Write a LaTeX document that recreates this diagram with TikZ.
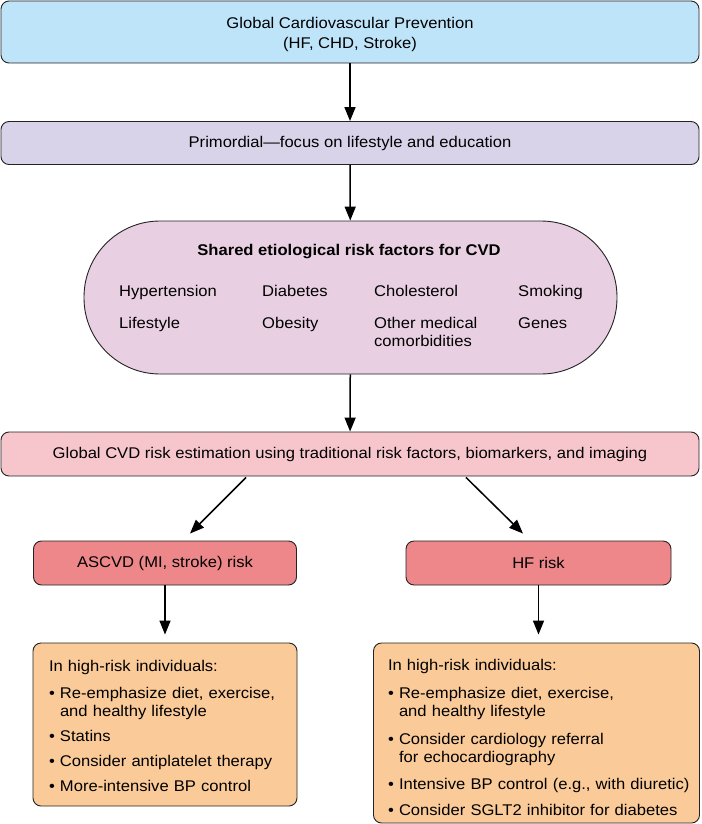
\documentclass[tikz,border=0pt]{standalone}
\usepackage{fontspec}
\setmainfont{Liberation Sans}[FakeStretch=1.07]
\usetikzlibrary{arrows.meta,calc}
\definecolor{cBlue}{RGB}{190,228,250}
\definecolor{cLav}{RGB}{217,211,234}
\definecolor{cStad}{RGB}{233,207,226}
\definecolor{cGlob}{RGB}{246,198,204}
\definecolor{cRed}{RGB}{237,135,138}
\definecolor{cPeach}{RGB}{250,202,152}
\definecolor{cLine}{RGB}{35,35,35}
\newcommand{\bul}[1]{\mbox{\makebox[11pt][l]{\textbullet}#1}}
\newcommand{\ind}[1]{\mbox{\hspace*{11pt}#1}}
\tikzset{
  box/.style={draw=cLine, line width=0.9pt, rounded corners=8pt, inner sep=0pt, align=center},
  arr/.style={draw=black, line width=1.5pt, -{Triangle[length=14pt,width=11pt]}},
  txt/.style={inner sep=0pt, anchor=base west, align=left}
}
\begin{document}
\begin{tikzpicture}[x=1pt,y=-1pt, font=\fontsize{15.5}{20}\selectfont]
\useasboundingbox (0,0) rectangle (701,824);
\fill[white] (0,0) rectangle (701,824);

\node[box, fill=cBlue, minimum width=698, minimum height=62] (top) at (350,32)
  {\rule{0pt}{16pt}Global Cardiovascular Prevention\\(HF, CHD, Stroke)};
\node[box, fill=cLav, minimum width=698, minimum height=43] (prim) at (350,143)
  {Primordial---focus on lifestyle and education};
\node[draw=cLine, line width=0.9pt, fill=cStad, rounded corners=76pt, inner sep=0pt,
  minimum width=533, minimum height=153] (stad) at (350.5,297.5) {};
\node[txt, anchor=base, font=\fontsize{15.5}{18}\selectfont\bfseries] (title) at (349,255)
  {Shared etiological risk factors for CVD};
\node[txt] (hyp) at (119,296) {Hypertension};
\node[txt] (dia) at (262,296) {Diabetes};
\node[txt] (cho) at (374,296) {Cholesterol};
\node[txt] (smo) at (518,296) {Smoking};
\node[txt] (lif) at (119,328) {Lifestyle};
\node[txt] (obe) at (262,328) {Obesity};
\node[txt, font=\fontsize{15.5}{18}\selectfont] (oth) at (374,346) {Other medical\\comorbidities};
\node[txt] (gen) at (518,328) {Genes};

\node[box, fill=cGlob, minimum width=698, minimum height=44] (glob) at (350,454)
  {Global CVD risk estimation using traditional risk factors, biomarkers, and imaging};
\node[box, fill=cRed, minimum width=263, minimum height=44] (asc) at (165,563)
  {ASCVD (MI, stroke) risk};
\node[box, fill=cRed, minimum width=265, minimum height=44] (hf) at (538.5,563)
  {HF risk};

\node[box, fill=cPeach, minimum width=264, minimum height=163, text width=232, align=left,
  font=\fontsize{15.5}{18}\selectfont] (lb) at (165,724.5)
  {\rule{0pt}{14pt}In high-risk individuals:\\[9pt]
   \bul{Re-emphasize diet, exercise,}\\
   \ind{and healthy lifestyle}\\[7pt]
   \bul{Statins}\\[7pt]
   \bul{Consider antiplatelet therapy}\\[7pt]
   \bul{More-intensive BP control}};
\node[box, fill=cPeach, minimum width=326, minimum height=180, text width=297, align=left,
  font=\fontsize{15.5}{18}\selectfont] (rb) at (536.5,733)
  {\rule{0pt}{20pt}In high-risk individuals:\\[10pt]
   \bul{Re-emphasize diet, exercise,}\\
   \ind{and healthy lifestyle}\\[10pt]
   \bul{Consider cardiology referral}\\
   \ind{for echocardiography}\\[9pt]
   \bul{Intensive BP control (e.g., with diuretic)}\\[8pt]
   \bul{Consider SGLT2 inhibitor for diabetes}};

\draw[arr] (top) -- (prim);
\draw[arr] (prim) -- (stad);
\draw[arr] (stad) -- (glob);
\draw[arr] ($(glob.south)+(-104,1)$) -- ($(asc.north)+(25,-7)$);
\draw[arr] ($(glob.south)+(116,1)$) -- ($(hf.north)+(-15.5,-7)$);
\draw[arr, shorten >=8pt] (asc) -- (lb);
\draw[arr, shorten >=8pt] (hf.south) -- (hf.south |- rb.north);
\end{tikzpicture}
\end{document}
